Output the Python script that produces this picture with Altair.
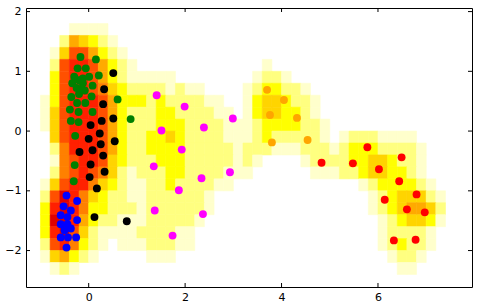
import altair as alt
import pandas as pd

# ---------------- data ----------------
blue_x = [-0.46, -0.24, -0.52, -0.37, -0.58, -0.44, -0.24, -0.58, -0.44, -0.37, -0.50, -0.58, -0.43, -0.26, -0.46]
blue_y = [-1.08, -1.17, -1.26, -1.33, -1.41, -1.44, -1.49, -1.56, -1.56, -1.63, -1.66, -1.78, -1.78, -1.78, -1.95]

green_x = [-0.17, 0.15, -0.23, -0.06, -0.30, 0.01, 0.21, -0.34, -0.20, -0.12, -0.25, -0.15, -0.08,
           -0.20, -0.12, 0.08, -0.36, 0.06, -0.24, -0.07, 0.60, -0.39, -0.21, 0.08, -0.37, -0.21,
           0.87, -0.28, -0.29, -0.31]
green_y = [1.24, 1.20, 1.05, 1.05, 0.91, 0.91, 0.93, 0.80, 0.85, 0.80, 0.72, 0.70, 0.68,
           0.62, 0.88, 0.76, 0.57, 0.58, 0.47, 0.47, 0.53, 0.36, 0.32, 0.32, 0.17, 0.15,
           0.20, -0.08, -0.57, -0.84]

black_x = [0.51, 0.32, 0.30, 0.51, 0.27, 0.04, 0.23, 0.00, 0.54, 0.25, -0.19, 0.08, 0.30,
           0.04, 0.33, 0.02, 0.17, 0.12, 0.79]
black_y = [0.97, 0.70, 0.45, 0.21, 0.17, 0.10, -0.04, -0.13, -0.17, -0.22, -0.35, -0.32, -0.41,
           -0.56, -0.68, -0.77, -0.96, -1.44, -1.51]

magenta_x = [1.41, 1.99, 2.99, 1.51, 2.39, 1.93, 1.35, 2.34, 2.93, 1.87, 1.37, 2.37, 1.74]
magenta_y = [0.60, 0.41, 0.21, 0.01, 0.06, -0.31, -0.59, -0.79, -0.69, -0.99, -1.33, -1.39, -1.75]

orange_x = [3.70, 4.05, 3.76, 4.32, 3.80, 4.54]
orange_y = [0.69, 0.52, 0.27, 0.22, -0.19, -0.15]

red_x = [5.78, 6.49, 4.83, 5.48, 6.02, 6.44, 6.80, 6.14, 6.60, 6.97, 6.33, 6.78]
red_y = [-0.27, -0.44, -0.53, -0.54, -0.64, -0.84, -1.06, -1.15, -1.31, -1.36, -1.83, -1.82]

groups = ["blue", "green", "black", "magenta", "orange", "red"]
group_colors = ["#0000ff", "#008000", "#000000", "#ff00ff", "#ffa500", "#ff0000"]

# density: 0 = empty .. 9 = darkest red
# columns start at x=-1.2, step 0.2 (44 columns); rows start at y=1.8 going down, step 0.2
grid_x0, grid_dx, grid_y0, grid_dy, grid_cols = -1.2, 0.2, 1.8, 0.2, 44
density_rows = [
    "00001111",
    "000254321",
    "0014775321",
    "00278875321" + "0" * 13 + "1",
    "00" "3788753211111" + "0" * 8 + "1221",
    "00" "3788764322221211" + "0" * 4 + "1233221",
    "01" "378887533323222211" "00" "13443221",
    "0" "14788875322233222211" "0" "13443321",
    "0" "147888753222333222211123333221",
    "00" "47888753223343222211123222221" "0" "12221111",
    "00" "2688875322" "3333222221" "2221112221" "233322221",
    "00" "1678874322" "2333222221" "2100001222" "233443221",
    "00" "2678764212" "2233222211" "1000000111" "223443321",
    "0" "1478864321" "1223222211" + "0" * 13 + "12333321",
    "0" "279864322112222221" + "0" * 16 + "12344421",
    "0" "389863322212222221" + "0" * 16 + "12345542",
    "0" "39985322111222221" + "0" * 18 + "1234431",
    "0" "3897421111222211" + "0" * 19 + "122221",
    "0" "2786321011122211" + "0" * 19 + "123221",
    "0" "14532100000111" + "0" * 22 + "1221",
    "00121" + "0" * 33 + "11",
]
level_colors = ["#ffffcc", "#ffff80", "#ffff00", "#ffd400", "#ffaa00",
                "#ff8000", "#ff5000", "#ff2000", "#e00000"]

x_ticks = [0, 2, 4, 6]
y_ticks = [-2, -1, 0, 1, 2]
X_DOMAIN = [-1.3, 7.95]
Y_DOMAIN = [-2.61, 2.06]
W, H = 446, 279

# ---------------- tables ----------------
cells = []
for j, row in enumerate(density_rows):
    row = row.ljust(grid_cols, "0")
    for i, ch in enumerate(row):
        v = int(ch)
        if v > 0:
            cells.append({
                "x": grid_x0 + grid_dx * i, "x2": grid_x0 + grid_dx * (i + 1),
                "y": grid_y0 - grid_dy * j, "y2": grid_y0 - grid_dy * (j + 1),
                "level": v,
            })
cells_df = pd.DataFrame(cells)

pts = []
for g, xs_, ys_ in [("blue", blue_x, blue_y), ("green", green_x, green_y),
                    ("black", black_x, black_y), ("magenta", magenta_x, magenta_y),
                    ("orange", orange_x, orange_y), ("red", red_x, red_y)]:
    for a, b in zip(xs_, ys_):
        pts.append({"x": a, "y": b, "group": g})
pts_df = pd.DataFrame(pts)

xsc = alt.Scale(domain=X_DOMAIN, nice=False, zero=False)
ysc = alt.Scale(domain=Y_DOMAIN, nice=False, zero=False)
csc = alt.Scale(domain=list(range(1, 10)), range=level_colors)

axis_common = dict(ticks=False, grid=False, domain=False, labelFontSize=11,
                   labelColor="black", labelFont="DejaVu Sans", title=None)
x_axis = alt.Axis(values=x_ticks, labelPadding=4, **axis_common)
y_axis = alt.Axis(values=y_ticks, labelPadding=5, **axis_common)

heat = alt.Chart(cells_df).mark_rect(strokeWidth=0.6).encode(
    x=alt.X("x:Q", scale=xsc, axis=x_axis, title=None),
    x2="x2:Q",
    y=alt.Y("y:Q", scale=ysc, axis=y_axis, title=None),
    y2="y2:Q",
    color=alt.Color("level:Q", scale=csc, legend=None),
    stroke=alt.Stroke("level:Q", scale=csc, legend=None),
)

points = alt.Chart(pts_df).mark_circle(size=62, opacity=1).encode(
    x=alt.X("x:Q", scale=xsc, axis=x_axis, title=None),
    y=alt.Y("y:Q", scale=ysc, axis=y_axis, title=None),
    fill=alt.Fill("group:N", scale=alt.Scale(domain=groups, range=group_colors), legend=None),
)

xt_df = pd.DataFrame({"v": x_ticks})
yt_df = pd.DataFrame({"v": y_ticks})
tick_len = 4
xb = alt.Chart(xt_df).mark_rule(color="black", strokeWidth=1).encode(
    x=alt.X("v:Q", scale=xsc, axis=x_axis, title=None), y=alt.value(H), y2=alt.value(H - tick_len))
xtp = alt.Chart(xt_df).mark_rule(color="black", strokeWidth=1).encode(
    x=alt.X("v:Q", scale=xsc, axis=x_axis, title=None), y=alt.value(0), y2=alt.value(tick_len))
yl = alt.Chart(yt_df).mark_rule(color="black", strokeWidth=1).encode(
    y=alt.Y("v:Q", scale=ysc, axis=y_axis, title=None), x=alt.value(0), x2=alt.value(tick_len))
yr = alt.Chart(yt_df).mark_rule(color="black", strokeWidth=1).encode(
    y=alt.Y("v:Q", scale=ysc, axis=y_axis, title=None), x=alt.value(W), x2=alt.value(W - tick_len))

chart = alt.layer(heat, points, xb, xtp, yl, yr).resolve_scale(
    color="independent", stroke="independent", fill="independent"
).properties(
    width=W, height=H,
    padding={"left": 26, "top": 8, "right": 7, "bottom": 21},
    autosize=alt.AutoSizeParams(type="none"),
    background="white",
).configure_view(stroke="black", strokeWidth=1)

chart.save("out.html", embed_options={"renderer": "svg", "actions": False})
